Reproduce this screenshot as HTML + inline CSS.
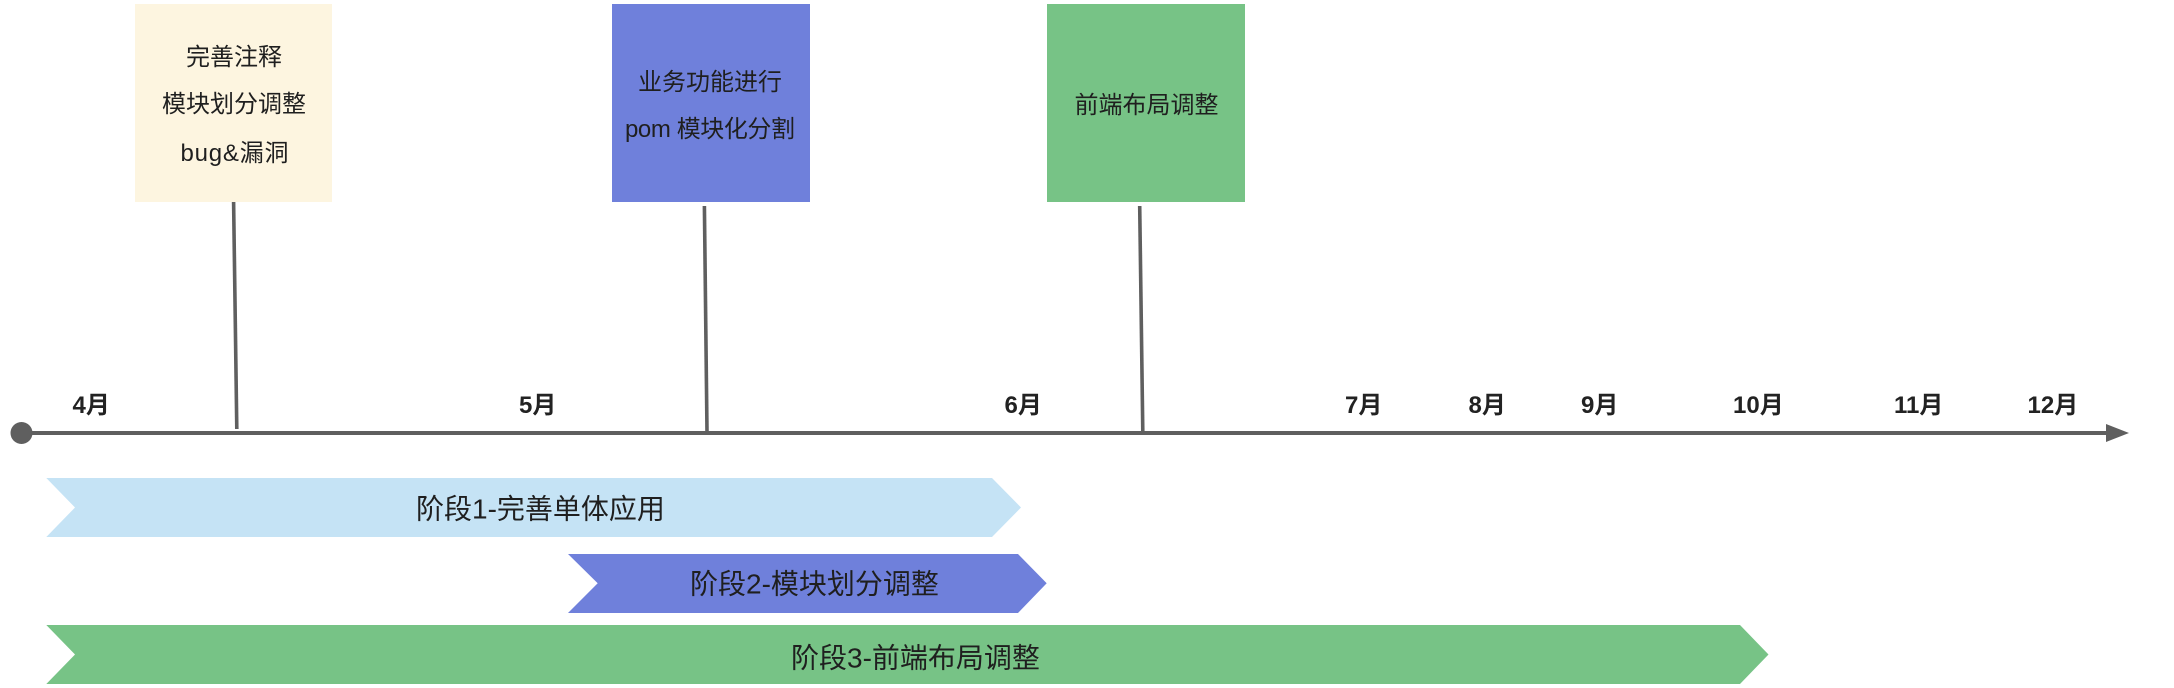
<!DOCTYPE html>
<html lang="zh">
<head>
<meta charset="utf-8">
<title>阶段时间线</title>
<style>
html,body{margin:0;padding:0;background:#fff;width:2174px;height:688px;overflow:hidden}
svg{display:block}
text{font-family:"Liberation Sans","Noto Sans CJK SC",sans-serif;fill:#1f1f1f}
.m{font-size:24px;font-weight:700;fill:#222}
.b{font-size:24px;text-anchor:middle}
.c{font-size:28px;text-anchor:start}
</style>
</head>
<body>
<svg width="2174" height="688" viewBox="0 0 2174 688" xmlns="http://www.w3.org/2000/svg">
<rect x="0" y="0" width="2174" height="688" fill="#fff"/>
<!-- boxes -->
<rect x="135" y="4" width="197" height="198" fill="#FDF5E0"/>
<rect x="612" y="4" width="198" height="198" fill="#6F80DB"/>
<rect x="1047" y="4" width="198" height="198" fill="#77C386"/>
<text class="b" x="234" y="65">完善注释</text>
<text class="b" x="234" y="112">模块划分调整</text>
<text class="b" x="234.5" y="161" textLength="108">bug&amp;漏洞</text>
<text class="b" x="710" y="90">业务功能进行</text>
<text class="b" x="710" y="137" textLength="170">pom 模块化分割</text>
<text class="b" x="1146.5" y="113">前端布局调整</text>
<!-- stems -->
<g stroke="#5f5f5f" stroke-width="3.6" fill="none">
<line x1="233.6" y1="202" x2="236.8" y2="429"/>
<line x1="704.4" y1="206" x2="707" y2="432"/>
<line x1="1139.7" y1="206" x2="1142.8" y2="432"/>
</g>
<!-- axis -->
<circle cx="21.5" cy="433" r="11" fill="#5f5f5f"/>
<line x1="21" y1="433" x2="2110" y2="433" stroke="#5f5f5f" stroke-width="4"/>
<polygon points="2106,424 2129,433 2106,442" fill="#5f5f5f"/>
<!-- months -->
<text class="m" x="72.5" y="413">4月</text>
<text class="m" x="519" y="413">5月</text>
<text class="m" x="1004.5" y="413">6月</text>
<text class="m" x="1345" y="413">7月</text>
<text class="m" x="1468.5" y="413">8月</text>
<text class="m" x="1581" y="413">9月</text>
<text class="m" x="1733" y="413">10月</text>
<text class="m" x="1894" y="413">11月</text>
<text class="m" x="2027.5" y="413">12月</text>
<!-- chevrons -->
<polygon points="46.3,478 992,478 1021,507.5 992,537 46.3,537 75,507.5" fill="#C5E3F5"/>
<polygon points="568,554 1018,554 1046.7,583.3 1018,613 568,613 597.7,583.3" fill="#6F80DB"/>
<polygon points="46.3,625 1740,625 1768.5,654.5 1740,684 46.3,684 75,654.5" fill="#77C386"/>
<text class="c" x="416" y="518.5">阶段1-完善单体应用</text>
<text class="c" x="690" y="593.5">阶段2-模块划分调整</text>
<text class="c" x="791" y="667.5">阶段3-前端布局调整</text>
</svg>
</body>
</html>
